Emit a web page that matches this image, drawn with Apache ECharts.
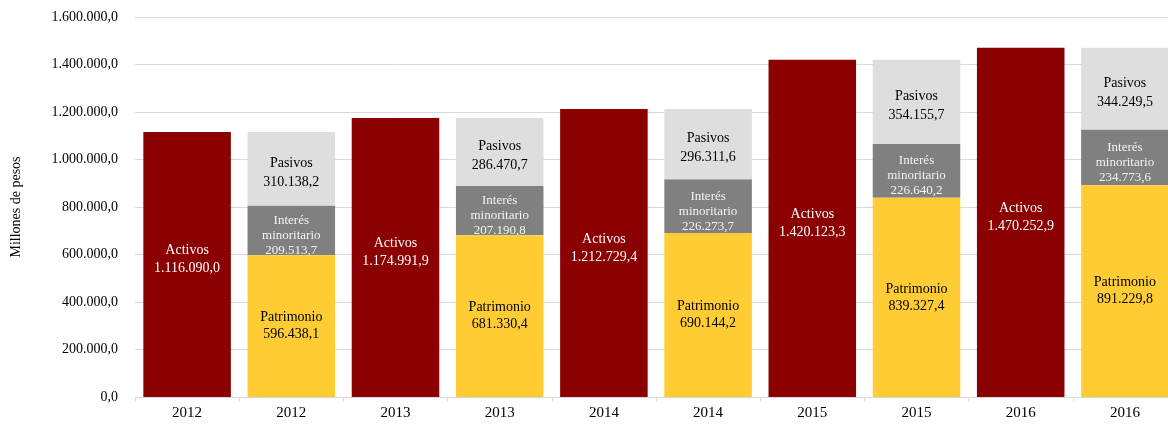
<!DOCTYPE html>
<html>
<head>
<meta charset="utf-8">
<script src="https://cdn.jsdelivr.net/npm/echarts@6/dist/echarts.min.js"></script>
<style>
  html, body { margin: 0; padding: 0; background: #fff; }
  #chart { width: 1168px; height: 428px; }
</style>
</head>
<body>
<div id="chart"></div>
<script>
// años: cada año tiene una barra de activos y una barra apilada
const years = ['2012', '2013', '2014', '2015', '2016']
const activos = [1116090.0, 1174991.9, 1212729.4, 1420123.3, 1470252.9]
const patrimonio = [596438.1, 681330.4, 690144.2, 839327.4, 891229.8]
const interes = [209513.7, 207190.8, 226273.7, 226640.2, 234773.6]
const pasivos = [310138.2, 286470.7, 296311.6, 354155.7, 344249.5]
const yTicks = [0, 200000, 400000, 600000, 800000, 1000000, 1200000, 1400000, 1600000]

const font = "'Liberation Serif', 'Times New Roman', serif"

// formato es: 1.116.090,0
function fmt(v) {
  const [i, d] = Number(v).toFixed(1).split('.')
  return i.replace(/\B(?=(\d{3})+(?!\d))/g, '.') + ',' + d
}

const categories = years.flatMap(y => [y, y])
const onLeft = arr => arr.flatMap(v => [v, null])
const onRight = arr => arr.flatMap(v => [null, v])

const chart = echarts.init(document.getElementById('chart'))

chart.setOption({
  animation: false,
  textStyle: { fontFamily: font },
  grid: { left: 135, top: 17, width: 1042, height: 380, outerBoundsMode: 'none', containLabel: false },
  xAxis: {
    type: 'category',
    data: categories,
    axisLine: { lineStyle: { color: '#d9d9d9', width: 1 } },
    axisTick: { show: true, interval: 0, length: 5, lineStyle: { color: '#d9d9d9' } },
    axisLabel: { interval: 0, color: '#000', fontSize: 15, fontFamily: font, margin: 9 },
  },
  yAxis: {
    type: 'value',
    min: yTicks[0],
    max: yTicks[yTicks.length - 1],
    interval: yTicks[1] - yTicks[0],
    name: 'Millones de pesos',
    nameLocation: 'middle',
    nameGap: 112,
    nameTextStyle: { color: '#000', fontSize: 14, fontFamily: font },
    axisLine: { show: false },
    axisTick: { show: false },
    axisLabel: { color: '#000', fontSize: 14, fontFamily: font, margin: 17, formatter: fmt },
    splitLine: { lineStyle: { color: '#d9d9d9', width: 1 } },
  },
  series: [
    {
      name: 'Activos',
      type: 'bar',
      stack: 'total',
      barCategoryGap: '16%',
      z: 2,
      data: onLeft(activos),
      itemStyle: { color: '#8b0000' },
      label: {
        show: true, position: 'inside', color: '#fff', fontSize: 14, lineHeight: 18,
        fontFamily: font, offset: [0, -5],
        formatter: p => 'Activos\n' + fmt(p.value),
      },
    },
    {
      name: 'Patrimonio',
      type: 'bar',
      stack: 'total',
      z: 3,
      data: onRight(patrimonio),
      itemStyle: { color: '#ffcd33' },
      label: {
        show: true, position: 'inside', color: '#000', fontSize: 14, lineHeight: 17,
        fontFamily: font,
        formatter: p => 'Patrimonio\n' + fmt(p.value),
      },
    },
    {
      name: 'Interés minoritario',
      type: 'bar',
      stack: 'total',
      z: 2,
      data: onRight(interes),
      itemStyle: { color: '#808080' },
      label: {
        show: true, position: 'inside', color: '#f2f2f2', fontSize: 13, lineHeight: 15,
        fontFamily: font, offset: [0, 5],
        formatter: p => 'Interés\nminoritario\n' + fmt(p.value),
      },
    },
    {
      name: 'Pasivos',
      type: 'bar',
      stack: 'total',
      z: 2,
      data: onRight(pasivos),
      itemStyle: { color: '#dfdedf' },
      label: {
        show: true, position: 'inside', color: '#000', fontSize: 14, lineHeight: 19,
        fontFamily: font, offset: [0, 4],
        formatter: p => 'Pasivos\n' + fmt(p.value),
      },
    },
  ],
})
</script>
</body>
</html>
